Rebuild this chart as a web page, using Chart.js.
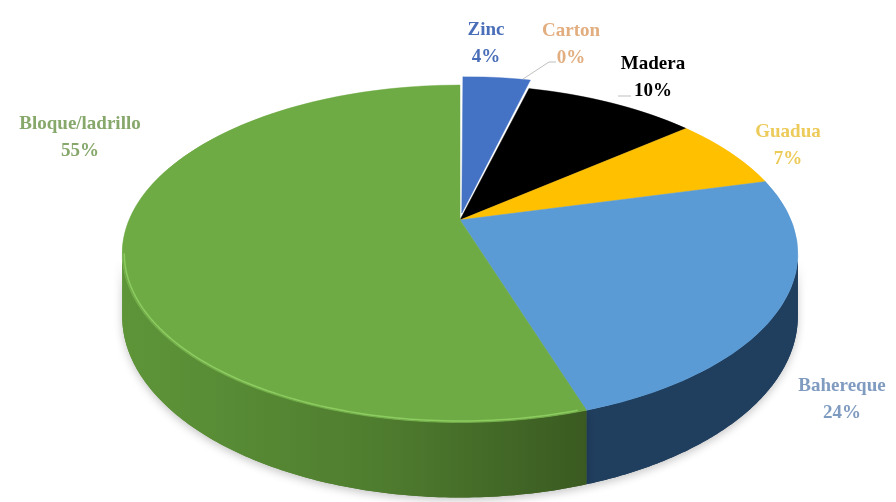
<!DOCTYPE html>
<html>
<head>
<meta charset="utf-8">
<script src="https://cdn.jsdelivr.net/npm/chart.js@4.4.1/dist/chart.umd.min.js"></script>
<style>
  html, body { margin: 0; padding: 0; background: #ffffff; }
  #wrap { width: 896px; height: 502px; position: relative; }
</style>
</head>
<body>
<div id="wrap"><canvas id="c" width="896" height="502"></canvas></div>
<script>
// ---- data ----
const categories = ['Zinc', 'Carton', 'Madera', 'Guadua', 'Bahereque', 'Bloque/ladrillo'];
const values = [4, 0, 10, 7, 24, 55];
const topColors = ['#4472C4', '#ED7D31', '#000000', '#FFC000', '#5B9BD5', '#6FAB45'];
const sideColors = ['#2E4F8A', '#A5561F', '#000000', '#B38600', '#203E5E', '#4E7D2F'];
const labelColors = ['#4A6FB8', '#E2AE80', '#000000', '#EDCB5A', '#7F9BC0', '#86A86B'];
const explode = [40, 0, 0, 0, 0, 0];

// ---- layout (screen): perspective view of the pie ----
const P = { cx: 460, cy: 220, A: 331, B: 162, k: 0.2, depth0: 60 };
const labelPos = [[486, 30], [571, 31], [653, 64], [788, 132], [842, 386], [80, 124]];
const LINE_GAP = 27;

const total = values.reduce((a, b) => a + b, 0);

function proj(u, v) {
  const w = 1 - P.k * v;
  return [P.cx + P.A * u / w, P.cy + P.B * v / w];
}

const pie3d = {
  id: 'pie3d',
  beforeDatasetsDraw(chart) {
    const ctx = chart.ctx;
    const arcs = chart.getDatasetMeta(0).data;
    const a0 = arcs[0];
    const r = a0.outerRadius, x0 = a0.x, y0 = a0.y;
    const tA = Math.asin(P.k), tB = Math.PI - Math.asin(P.k);

    // side walls (visible front part only, between the silhouette tangents)
    arcs.forEach((a, i) => {
      const s = Math.max(a.startAngle, tA);
      const e = Math.min(a.endAngle, tB);
      if (e <= s) return;
      const N = 120, top = [], bot = [];
      for (let j = 0; j <= N; j++) {
        const t = s + (e - s) * j / N;
        const u = Math.cos(t), v = Math.sin(t);
        const [x, y] = proj(u, v);
        top.push([x, y]);
        bot.push([x, y + P.depth0 / (1 - P.k * v)]);
      }
      const path = () => {
        ctx.beginPath();
        top.forEach((p, j) => j ? ctx.lineTo(p[0], p[1]) : ctx.moveTo(p[0], p[1]));
        for (let j = bot.length - 1; j >= 0; j--) ctx.lineTo(bot[j][0], bot[j][1]);
        ctx.closePath();
      };
      let fill = sideColors[i];
      if (i === 5) {
        const g = ctx.createLinearGradient(top[top.length - 1][0], 0, top[0][0], 0);
        g.addColorStop(0, '#5E9539');
        g.addColorStop(0.55, '#4F7D2F');
        g.addColorStop(1, '#3A5A21');
        fill = g;
      }
      // soft shadow below the wall
      ctx.save();
      ctx.setTransform(1, 0, 0, 1, 0, 0);
      ctx.beginPath();
      ctx.rect(0, 262, chart.width, chart.height);
      ctx.clip();
      path();
      ctx.shadowColor = 'rgba(0,0,0,0.22)';
      ctx.shadowBlur = 8;
      ctx.shadowOffsetY = 3;
      ctx.fillStyle = fill;
      ctx.fill();
      ctx.restore();
      // wall
      ctx.save();
      ctx.setTransform(1, 0, 0, 1, 0, 0);
      path();
      ctx.fillStyle = fill;
      ctx.fill();
      ctx.restore();
    });

    // top faces: library arcs drawn row by row through a local perspective transform
    for (let y = 50; y < 432; y++) {
      const ym = y + 0.5;
      const dy = ym - P.cy;
      const v = dy / (P.B + P.k * dy);
      const w = 1 - P.k * v;
      const sx = P.A / (w * r);
      const sy = P.B / (w * w * r);
      const pyv = y0 + v * r;
      ctx.save();
      ctx.setTransform(1, 0, 0, 1, 0, 0);
      ctx.beginPath();
      ctx.rect(0, y, chart.width, 1);
      ctx.clip();
      ctx.setTransform(sx, 0, 0, sy, P.cx - sx * x0, ym - sy * pyv);
      arcs.forEach(a => a.draw(ctx));
      ctx.restore();
    }

    // bevel highlight on the front top edge of the green slice
    const g = arcs[5];
    const s = Math.max(g.startAngle, 0) + 0.02, e = Math.min(g.endAngle, tB);
    ctx.save();
    ctx.setTransform(1, 0, 0, 1, 0, 0);
    ctx.beginPath();
    for (let j = 0; j <= 100; j++) {
      const t = s + (e - s) * j / 100;
      const [x, y] = proj(Math.cos(t) * 0.994, Math.sin(t) * 0.994);
      j ? ctx.lineTo(x, y) : ctx.moveTo(x, y);
    }
    ctx.strokeStyle = 'rgba(150,215,105,0.75)';
    ctx.lineWidth = 1.5;
    ctx.stroke();
    ctx.restore();
    return false;
  },
  afterDraw(chart) {
    const ctx = chart.ctx;
    ctx.save();
    ctx.strokeStyle = '#BFBFBF';
    ctx.lineWidth = 1;
    ctx.beginPath();
    ctx.moveTo(523, 79); ctx.lineTo(549, 62); ctx.lineTo(556, 62);
    ctx.moveTo(618, 96); ctx.lineTo(631, 96);
    ctx.stroke();
    ctx.font = 'bold 19px "Liberation Serif", "Times New Roman", serif';
    ctx.textAlign = 'center';
    ctx.textBaseline = 'middle';
    categories.forEach((c, i) => {
      const [x, y] = labelPos[i];
      ctx.fillStyle = labelColors[i];
      ctx.fillText(c, x, y);
      ctx.fillText(Math.round(values[i] / total * 100) + '%', x, y + LINE_GAP);
    });
    ctx.restore();
  }
};

new Chart(document.getElementById('c'), {
  type: 'pie',
  data: {
    labels: categories,
    datasets: [{
      data: values,
      backgroundColor: topColors,
      borderColor: topColors,
      borderWidth: 0.5,
      offset: explode,
      clip: false
    }]
  },
  options: {
    responsive: false,
    devicePixelRatio: 1,
    animation: false,
    events: [],
    layout: { padding: 0 },
    plugins: { legend: { display: false }, tooltip: { enabled: false } }
  },
  plugins: [pie3d]
});
</script>
</body>
</html>
